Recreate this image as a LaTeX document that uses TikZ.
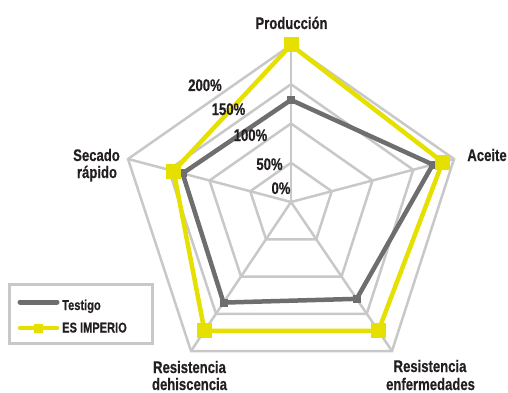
\documentclass[tikz,border=0pt]{standalone}
\usepackage{fontspec}
\setmainfont{Liberation Sans}[FakeStretch=0.78,FakeBold=0.5]
\usetikzlibrary{calc}
\definecolor{gridgray}{RGB}{200,200,200}
\definecolor{serieT}{RGB}{110,110,110}
\definecolor{serieI}{RGB}{230,224,0}
\definecolor{txt}{RGB}{35,31,32}
\newcommand{\lblfont}{\fontsize{16.8}{18}\selectfont\bfseries}
\newcommand{\legfont}{\fontsize{14.2}{15}\selectfont\bfseries}
\begin{document}
\begin{tikzpicture}[x=1pt,y=-1pt,
  grid/.style={draw=gridgray,line width=2.5pt,line join=miter},
  testigo/.style={draw=serieT,line width=4.5pt,line join=miter},
  imperio/.style={draw=serieI,line width=4.5pt,line join=miter},
  mkT/.style={fill=serieT,minimum size=8pt,inner sep=0pt,rectangle},
  mkI/.style={fill=serieI,minimum size=15pt,inner sep=0pt,rectangle},
  mkL/.style={fill=serieI,minimum size=9pt,inner sep=0pt,rectangle},
  axlbl/.style={font=\lblfont,text=txt,inner sep=0pt,anchor=base},
  leg/.style={font=\legfont,text=txt,inner sep=0pt,anchor=base west}]
\useasboundingbox (0,0) rectangle (508,393);
% axes geometry
\coordinate (C) at (291,202);
\coordinate (P) at (291,45);
\coordinate (A) at (454,159);
\coordinate (RE) at (392,351);
\coordinate (RD) at (191,351);
\coordinate (S) at (128,159);
% grid
\foreach \f in {0.25,0.5,0.75,1}
  \draw[grid] ($(C)!\f!(P)$) -- ($(C)!\f!(A)$) -- ($(C)!\f!(RE)$) -- ($(C)!\f!(RD)$) -- ($(C)!\f!(S)$) -- cycle;
\foreach \v in {P,A,RE,RD,S}
  \draw[grid] (C) -- (\v);
% Testigo data
\coordinate (tP) at ($(C)!0.65!(P)$);
\coordinate (tA) at ($(C)!0.87!(A)$);
\coordinate (tRE) at ($(C)!0.65!(RE)$);
\coordinate (tRD) at ($(C)!0.675!(RD)$);
\coordinate (tS) at ($(C)!0.665!(S)$);
\draw[testigo] (tP) -- (tA) -- (tRE) -- (tRD) -- (tS) -- cycle;
\foreach \v in {tP,tA,tRE,tRD,tS}
  \node[mkT] (m\v) at (\v) {};
% ES IMPERIO data
\coordinate (iP) at ($(C)!1!(P)$);
\coordinate (iA) at ($(C)!0.93!(A)$);
\coordinate (iRE) at ($(C)!0.865!(RE)$);
\coordinate (iRD) at ($(C)!0.865!(RD)$);
\coordinate (iS) at ($(C)!0.72!(S)$);
\draw[imperio] (iP) -- (iA) -- (iRE) -- (iRD) -- (iS) -- cycle;
\foreach \v in {iP,iA,iRE,iRD,iS}
  \node[mkI] (m\v) at (\v) {};
% percentage labels
\node[axlbl] (p200) at (205,91) {200\%};
\node[axlbl] (p150) at (228.5,115) {150\%};
\node[axlbl] (p100) at (250.5,141) {100\%};
\node[axlbl] (p50) at (269.5,170) {50\%};
\node[axlbl] (p0) at (281,194) {0\%};
% axis labels
\node[axlbl] (lP) at (291.5,29) {Producción};
\node[axlbl] (lA) at (487,161) {Aceite};
\node[axlbl] (lS1) at (96.5,161) {Secado};
\node[axlbl] (lS2) at (97,178) {rápido};
\node[axlbl] (lRD1) at (189.5,373) {Resistencia};
\node[axlbl] (lRD2) at (189.5,390) {dehiscencia};
\node[axlbl] (lRE1) at (430,372) {Resistencia};
\node[axlbl] (lRE2) at (430.5,390) {enfermedades};
% legend
\node[draw=gridgray,line width=2.5pt,minimum width=143pt,minimum height=59pt,inner sep=0pt,anchor=north west] (legbox) at (8,283) {};
\coordinate (g1) at (20,302);
\coordinate (g2) at (57,302);
\coordinate (y1) at (20,328);
\coordinate (y2) at (57,328);
\draw[draw=serieT,line width=5pt,line cap=round] (g1) -- (g2);
\draw[draw=serieI,line width=4.5pt,line cap=round] (y1) -- (y2);
\node[mkL] (legmk) at ($(y1)!0.5!(y2)$) {};
\node[leg] (legT) at (62,310) {Testigo};
\node[leg] (legI) at (62,332.5) {ES IMPERIO};
\end{tikzpicture}
\end{document}
